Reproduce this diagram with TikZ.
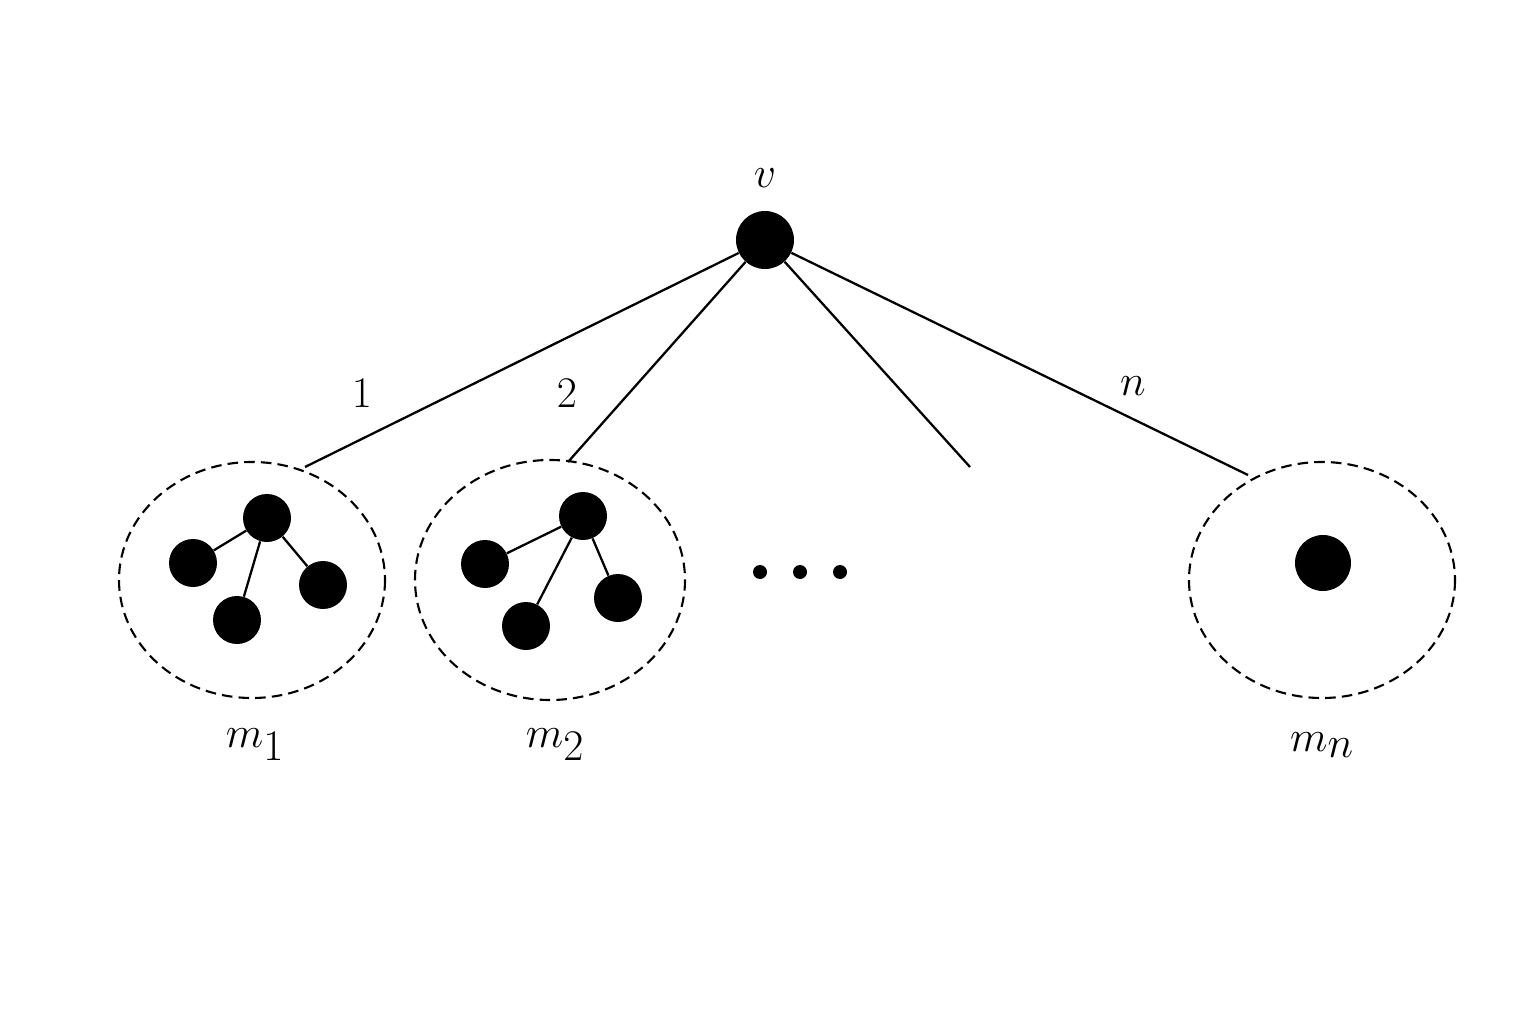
\documentclass[tikz,border=0pt]{standalone}
\begin{document}
\begin{tikzpicture}[x=0.02cm,y=-0.02cm,
  dot/.style={circle,fill=black,inner sep=0pt,minimum size=#1},
  lab/.style={font=\fontsize{42}{46}\selectfont},
  grp/.style={draw,dash pattern=on 6pt off 3.5pt,line width=1.2pt},
  ln/.style={line width=1.3pt}]
\useasboundingbox (0,0) rectangle (1536,1024);
\node[dot=58*0.02cm] (v) at (765,240) {};
\node[lab] (lv) at (765,178) {$v$};
\draw[grp] (252,580) ellipse [x radius=133,y radius=118];
\draw[grp] (550,580) ellipse [x radius=135,y radius=120];
\draw[grp] (1322,580) ellipse [x radius=133,y radius=118];
\coordinate (e1) at (305,467);
\coordinate (e2) at (568,462);
\coordinate (e3) at (970,467);
\coordinate (e4) at (1248,475);
\draw[ln] (v) -- (e1); \draw[ln] (v) -- (e2); \draw[ln] (v) -- (e3); \draw[ln] (v) -- (e4);
\node[lab] (l1) at (362,393) {$1$};
\node[lab] (l2) at (567,393) {$2$};
\node[lab] (ln) at (1133,386) {$n$};
\foreach \n/\x/\y in {a/267/518,b/193/563,c/237/620,d/323/585,p/583/516,q/485/564,r/526/626,s/618/598}
  \node[dot=48*0.02cm] (\n) at (\x,\y) {};
\draw[ln] (a)--(b) (a)--(c) (a)--(d) (p)--(q) (p)--(r) (p)--(s);
\node[dot=56*0.02cm] (w) at (1323,563) {};
\foreach \i/\x in {1/760,2/800,3/840} \node[dot=14*0.02cm] (d\i) at (\x,572) {};
\node[lab] (m1) at (255,745) {$m_1$};
\node[lab] (m2) at (555,745) {$m_2$};
\node[lab] (mn) at (1322,745) {$m_n$};
\end{tikzpicture}
\end{document}
